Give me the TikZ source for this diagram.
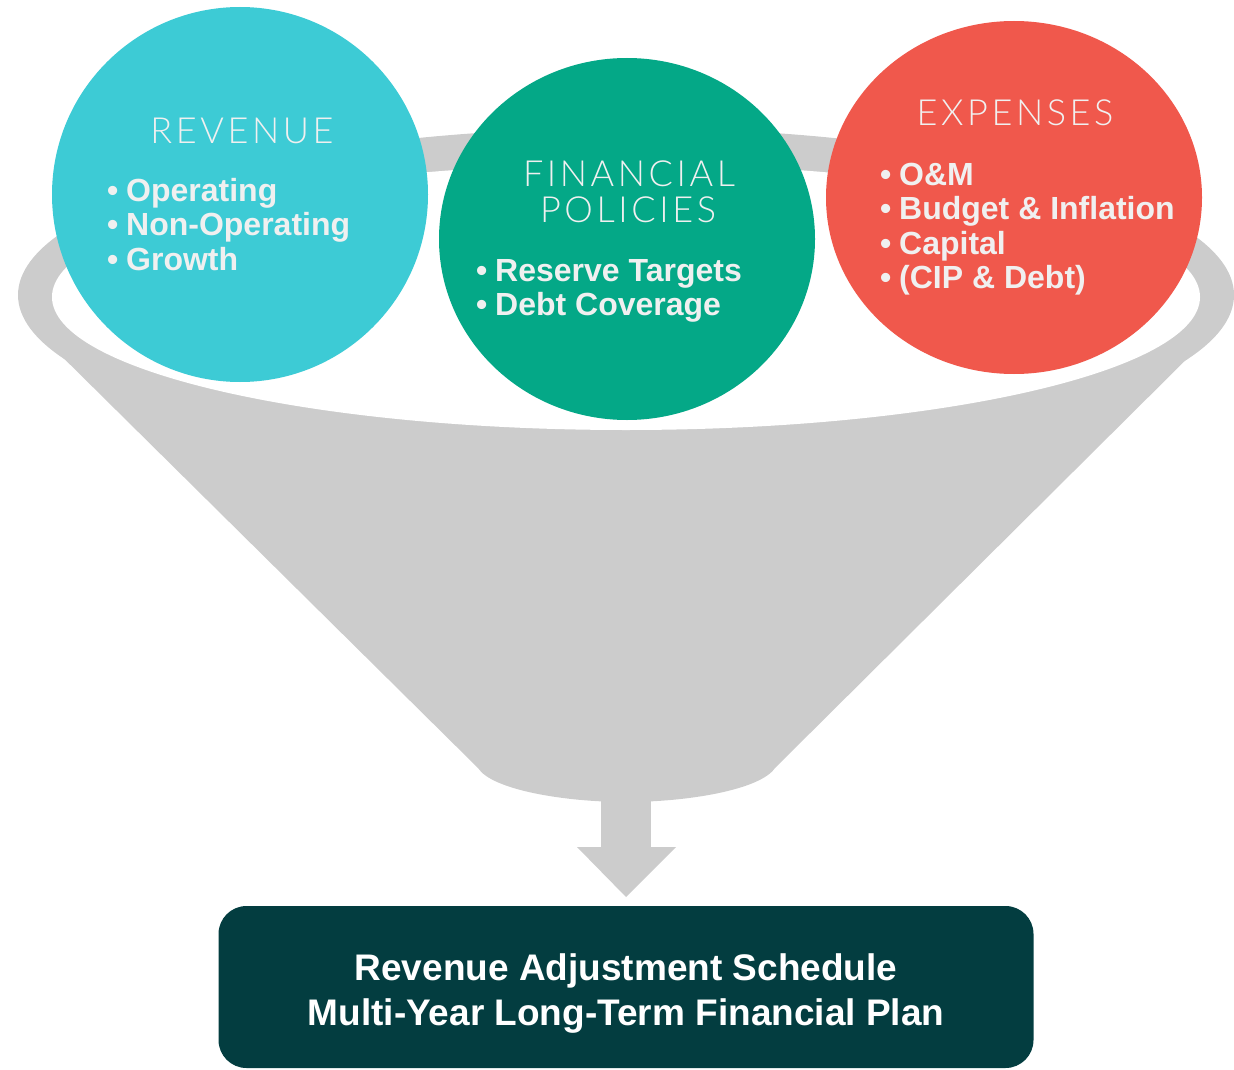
\documentclass[tikz,border=0pt]{standalone}
\usepackage{fontspec}
\setmainfont{Liberation Sans}
\newfontfamily\headfont{Lato Light}[LetterSpace=10]
\usetikzlibrary{shapes.geometric}
\definecolor{cyanc}{HTML}{3DCBD5}
\definecolor{tealc}{HTML}{04A887}
\definecolor{redc}{HTML}{F0584C}
\definecolor{funnelgray}{HTML}{CCCCCC}
\definecolor{darkbox}{HTML}{033D40}
\definecolor{lighttext}{HTML}{F0F0F0}
\tikzset{
  bubble/.style={ellipse, inner sep=0pt, draw=none},
  heading/.style={anchor=base, inner sep=0pt, text=lighttext, font=\headfont\fontsize{36}{38}\selectfont},
  bulletline/.style={anchor=base west, inner sep=0pt, text=lighttext, font=\bfseries\fontsize{32}{34}\selectfont},
  planbox/.style={rectangle, rounded corners=28pt, fill=darkbox, inner sep=0pt},
  plantext/.style={anchor=base, inner sep=0pt, text=white, font=\bfseries\fontsize{37}{45}\selectfont}
}
\newcommand{\bul}[1]{\makebox[19pt][l]{\textbullet}#1}
\begin{document}
\begin{tikzpicture}[x=1pt,y=-1pt]
\useasboundingbox (0,0) rectangle (1234,1070);
% funnel
\fill[funnelgray] (626,295) ellipse [x radius=608, y radius=167];
\fill[funnelgray] (25,320) -- (478,768) .. controls (492,790) and (565,802) .. (626,802)
  .. controls (687,802) and (760,790) .. (775,768) -- (1226,320) -- cycle;
\fill[white] (626,297) ellipse [x radius=574, y radius=133];
% stem and arrow
\fill[funnelgray] (601,795) rectangle (651,848);
\fill[funnelgray] (577,847) -- (676,847) -- (626,897) -- cycle;
% bubbles
\node[bubble, fill=cyanc, minimum width=376pt, minimum height=375pt] (rev) at (240,194.5) {};
\node[bubble, fill=tealc, minimum width=376pt, minimum height=362pt] (fin) at (627,239) {};
\node[bubble, fill=redc, minimum width=376pt, minimum height=353pt] (exp) at (1014,197.5) {};
% headings
\node[heading] (revh) at (242,143) {REVENUE};
\node[heading] (finh1) at (629,186) {FINANCIAL};
\node[heading] (finh2) at (628,222) {POLICIES};
\node[heading] (exph) at (1015,126) {EXPENSES};
% bullets
\node[bulletline] (r1) at (107,201) {\bul{Operating}};
\node[bulletline] (r2) at (107,235.5) {\bul{Non-Operating}};
\node[bulletline] (r3) at (107,270) {\bul{Growth}};
\node[bulletline] (f1) at (476,281) {\bul{Reserve Targets}};
\node[bulletline] (f2) at (476,315) {\bul{Debt Coverage}};
\node[bulletline] (e1) at (880,185) {\bul{O\&M}};
\node[bulletline] (e2) at (880,219.5) {\bul{Budget \& Inflation}};
\node[bulletline] (e3) at (880,254) {\bul{Capital}};
\node[bulletline] (e4) at (880,288.5) {\bul{(CIP \& Debt)}};
% result box
\node[planbox, minimum width=815pt, minimum height=162pt] (plan) at (626,987) {};
\node[plantext] (plan1) at (626,980) {Revenue Adjustment Schedule};
\node[plantext] (plan2) at (626,1025) {Multi-Year Long-Term Financial Plan};
\end{tikzpicture}
\end{document}
